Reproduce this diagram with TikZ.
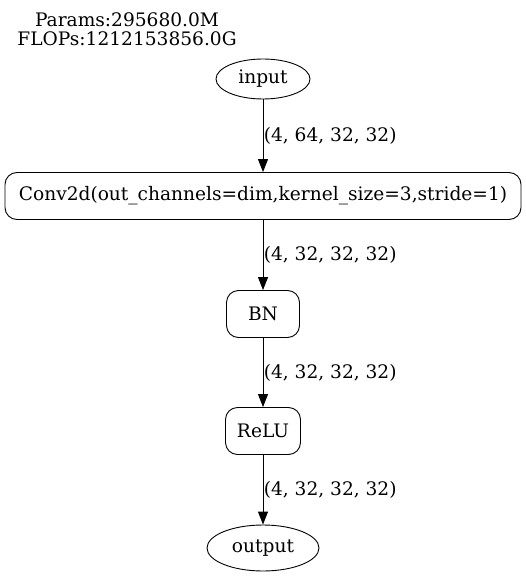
\documentclass[tikz,border=0pt]{standalone}
\usepackage{fontspec}
\setmainfont{DejaVu Serif}
\usetikzlibrary{arrows.meta,shapes.geometric}
\tikzset{
	layer/.style = {draw, rounded corners=12pt, minimum height=47pt, inner xsep=6pt},
	port/.style  = {draw, ellipse, minimum height=40pt, inner xsep=2pt},
	flow/.style  = {-{Triangle[length=13pt,width=10pt]}},
	dimlabel/.style = {anchor = west, xshift=-3pt}
}
\newcommand{\sz}[1]{(4, #1, 32, 32)}

\begin{document}
\begin{tikzpicture}[x=1pt,y=-1pt,font=\fontsize{18.6}{19}\selectfont,line width=0.9pt]
\useasboundingbox (0,0) rectangle (525,577);
\node[align=center, inner sep=0pt] (stats) at (127,29) {Params:295680.0M\\FLOPs:1212153856.0G};
\node[port, minimum width=94pt] (input) at (263,79) {input};
\node[layer, minimum width=516pt] (conv) at (263,196)
	{Conv2d(out\_channels=dim,kernel\_size=3,stride=1)};
\node[layer, minimum width=73pt] (bn) at (263,314) {BN};
\node[layer, minimum width=75pt] (relu) at (263,431) {ReLU};
\node[port, minimum width=112pt, minimum height=46pt] (output) at (263,548) {output};
\draw[flow] (input) -- (conv) node[midway, dimlabel] {\sz{64}};
\draw[flow] (conv) -- (bn) node[midway, dimlabel] {\sz{32}};
\draw[flow] (bn) -- (relu) node[midway, dimlabel] {\sz{32}};
\draw[flow] (relu) -- (output) node[midway, dimlabel] {\sz{32}};
\end{tikzpicture}
\end{document}
